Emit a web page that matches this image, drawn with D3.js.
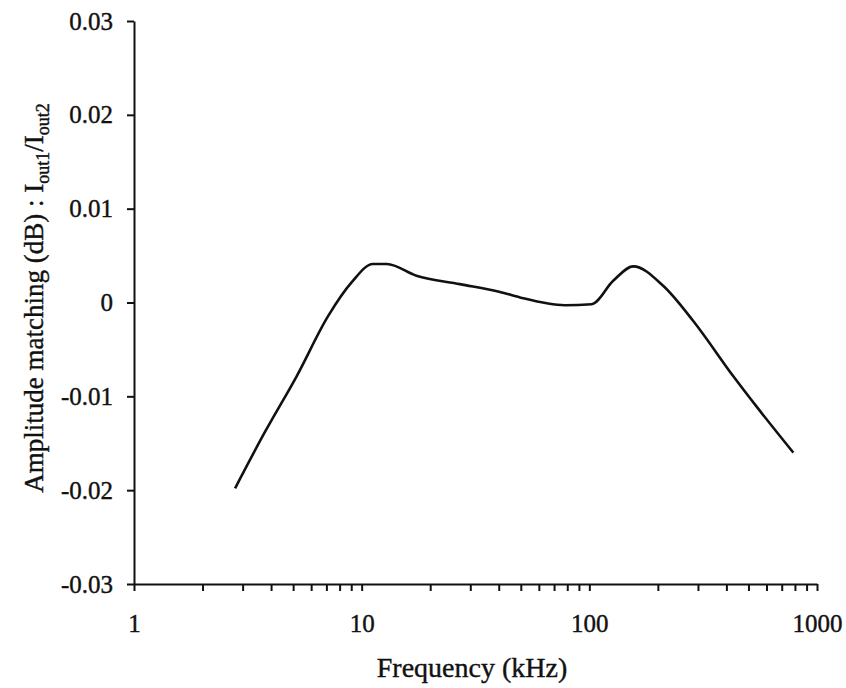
<!DOCTYPE html>
<html>
<head>
<meta charset="utf-8">
<script src="https://cdn.jsdelivr.net/npm/d3@7"></script>
<style>
  body { margin: 0; background: #fff; }
  text { font-family: "Liberation Serif", "Times New Roman", serif; fill: #111; stroke: #111; stroke-width: 0.4px; }
</style>
</head>
<body>
<div id="chart"></div>
<script>
// frequency (kHz)
var freq = [2.78, 3.76, 5.18, 7.13, 9.03, 11.2, 12.9, 17.4, 27.0, 40.5, 49.6, 78.1, 102.4, 127.3, 156, 211, 286, 429, 543, 787];
// amplitude matching (dB)
var amp = [-0.0198, -0.0138, -0.00786, -0.00143, 0.00214, 0.0041, 0.0041, 0.00285, 0.00196, 0.00113, 0.00054, -0.00029, -0.00018, 0.00231, 0.00385, 0.00178, -0.00197, -0.00786, -0.0111, -0.0160];

var yTicks = [-0.03, -0.02, -0.01, 0, 0.01, 0.02, 0.03];
var yTickLabels = ["-0.03", "-0.02", "-0.01", "0", "0.01", "0.02", "0.03"];
var xMajor = [1, 10, 100, 1000];

var width = 846, height = 688;

var svg = d3.select("#chart").append("svg")
    .attr("width", width)
    .attr("height", height);

var x = d3.scaleLog()
    .domain([1, 1000])
    .range([134, 817]);

var y = d3.scaleLinear()
    .domain([-0.03, 0.03])
    .range([584, 21]);

// every 1..9 per decade as a tick, labels only on the decades
var xAll = [];
[1, 10, 100].forEach(function(d) {
  for (var k = 1; k < 10; k++) { xAll.push(d * k); }
});
xAll.push(1000);

var xAxis = d3.axisBottom(x)
    .tickValues(xAll)
    .tickSize(7)
    .tickSizeOuter(0)
    .tickPadding(23)
    .tickFormat(function(d) { return xMajor.indexOf(d) >= 0 ? d3.format("d")(d) : ""; });

var yAxis = d3.axisLeft(y)
    .tickValues(yTicks)
    .tickSize(7)
    .tickSizeOuter(0)
    .tickPadding(14)
    .tickFormat(function(d, i) { return yTickLabels[i]; });

var gx = svg.append("g")
    .attr("transform", "translate(0," + y(-0.03) + ")")
    .call(xAxis);

var gy = svg.append("g")
    .attr("transform", "translate(" + x(1) + ",0)")
    .call(yAxis);

[gx, gy].forEach(function(g) {
  g.select(".domain").attr("stroke", "#111").attr("stroke-width", 2);
  g.selectAll(".tick line").attr("stroke", "#111").attr("stroke-width", 2);
  g.selectAll(".tick text")
      .style("font-family", "'Liberation Serif', 'Times New Roman', serif")
      .style("font-size", "25px")
      .attr("fill", "#111");
});

// the curve
var line = d3.line()
    .x(function(d) { return x(d[0]); })
    .y(function(d) { return y(d[1]); })
    .curve(d3.curveMonotoneX);

svg.append("path")
    .datum(d3.zip(freq, amp))
    .attr("fill", "none")
    .attr("stroke", "#111")
    .attr("stroke-width", 2.6)
    .attr("stroke-linejoin", "round")
    .attr("d", line);

// axis titles
svg.append("text")
    .attr("x", 472)
    .attr("y", 677)
    .attr("text-anchor", "middle")
    .style("font-size", "28px")
    .text("Frequency (kHz)");

var yTitle = svg.append("text")
    .attr("transform", "translate(43,298) rotate(-90)")
    .attr("text-anchor", "middle")
    .style("font-size", "27px");

yTitle.append("tspan").text("Amplitude matching (dB) : I");
yTitle.append("tspan").attr("dy", 6).style("font-size", "18px").text("out1");
yTitle.append("tspan").attr("dy", -6).text("/I");
yTitle.append("tspan").attr("dy", 6).style("font-size", "18px").text("out2");
</script>
</body>
</html>
